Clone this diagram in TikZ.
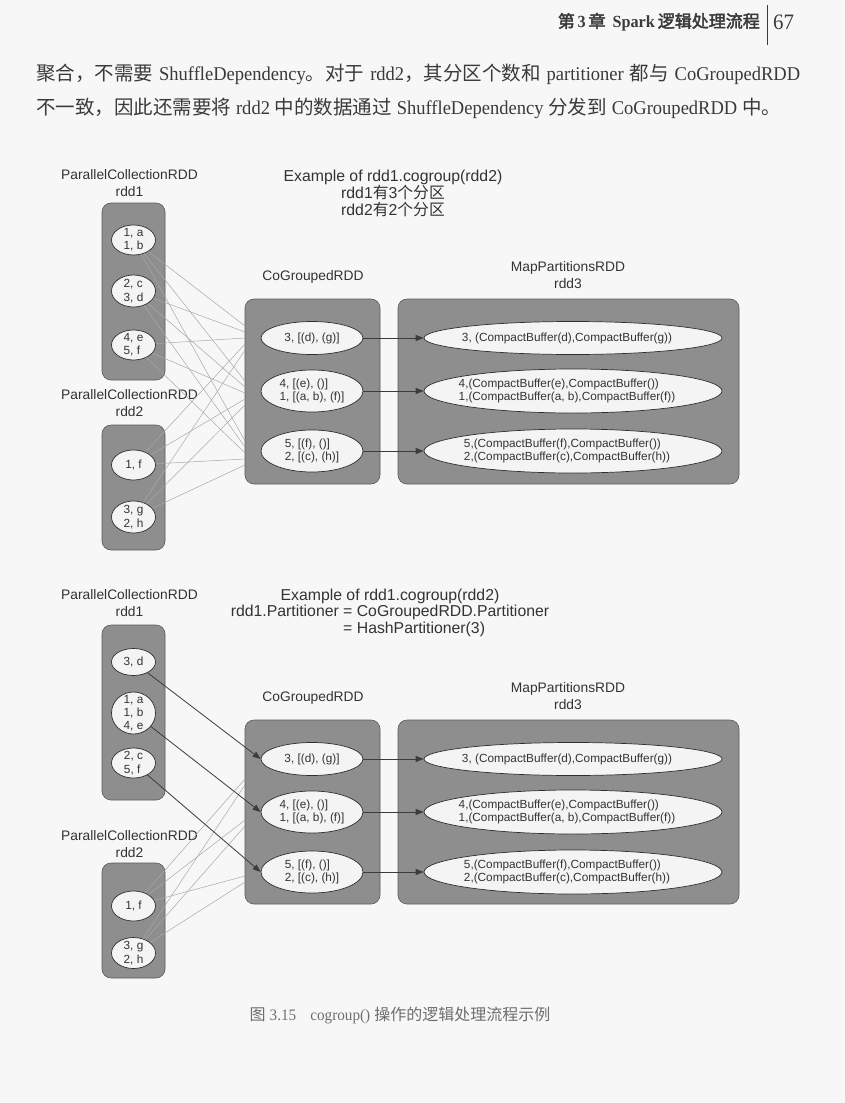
\documentclass[tikz,border=0pt]{standalone}
\usepackage{fontspec}
\setmainfont{Liberation Serif}
\newfontfamily\dg{Liberation Sans}
\newfontfamily\cjk{Noto Sans CJK SC}
\newfontfamily\cjkb[FakeBold=2.5]{Noto Sans CJK SC}
\newfontfamily\latn[FakeStretch=0.95]{Liberation Serif}
\usetikzlibrary{shapes.geometric,arrows.meta}
\definecolor{pagebg}{HTML}{F7F7F7}
\definecolor{boxfill}{HTML}{8E8E8E}
\definecolor{boxline}{HTML}{5A5A5A}
\definecolor{ellfill}{HTML}{F4F4F4}
\definecolor{ellline}{HTML}{2E2E2E}
\definecolor{dgtext}{HTML}{333333}
\definecolor{thinline}{HTML}{A8A8A8}
\definecolor{arrline}{HTML}{3C3C3C}
\definecolor{bodytext}{HTML}{3A3A3A}
\definecolor{captext}{HTML}{6E6E6E}
\tikzset{
  rddbox/.style={draw=boxline, fill=boxfill, rounded corners=9pt, line width=0.6pt, inner sep=0pt},
  part/.style={ellipse, draw=ellline, fill=ellfill, line width=0.7pt, inner sep=0pt},
  ptxt/.style={inner sep=0pt, align=left, text=dgtext, font=\dg\fontsize{11.8}{13.3}\selectfont},
  lbl/.style={inner sep=0pt, align=center, text=dgtext, font=\dg\fontsize{13.8}{17}\selectfont},
  ttl/.style={inner sep=0pt, align=center, text=dgtext, font=\dg\fontsize{15.8}{16.6}\selectfont},
  shuf/.style={draw=thinline, line width=0.5pt},
  dep/.style={draw=arrline, line width=0.8pt, -{Triangle[length=8pt,width=6pt]}},
  body/.style={inner sep=0pt, anchor=west, text=bodytext, font=\fontsize{19.5}{24}\selectfont}
}
\begin{document}
\begin{tikzpicture}[x=1pt,y=-1pt]
\path[use as bounding box, fill=pagebg] (0,0) rectangle (845,1103);

% ---------- page header ----------
\node[inner sep=0pt, anchor=east, text=bodytext, font=\fontsize{17}{20}\selectfont] (hdr) at (760,22)
  {{\cjkb 第}\,{\latn\bfseries 3}\,{\cjkb 章}\hspace{7pt}{\latn\bfseries Spark}\hspace{3pt}{\cjkb 逻辑处理流程}};
\draw[bodytext, line width=0.9pt] (767,5) -- (767,45);
\node[inner sep=0pt, anchor=west, text=bodytext, font=\fontsize{22}{24}\selectfont] (pgno) at (773,22) {\latn 67};

% ---------- paragraph ----------
\node[body] (para1) at (36,74) {\makebox[764pt][s]{{\cjk 聚合，不需要} {\latn ShuffleDependency}{\cjk 。对于} {\latn rdd2}{\cjk ，其分区个数和} {\latn partitioner} {\cjk 都与} {\latn CoGroupedRDD}}};
\node[body] (para2) at (36,108) {{\cjk 不一致，因此还需要将} {\latn rdd2} {\cjk 中的数据通过} {\latn ShuffleDependency} {\cjk 分发到} {\latn CoGroupedRDD} {\cjk 中。}};

% ================= TOP DIAGRAM =================
\node[ttl] (title1) at (393,193.5) {Example of rdd1.cogroup(rdd2)\\rdd1{\cjk 有}3{\cjk 个分区}\\rdd2{\cjk 有}2{\cjk 个分区}};
\node[lbl] (r1lbl) at (129.5,183.5) {ParallelCollectionRDD\\rdd1};
\node[lbl] (r2lbl) at (129.5,403) {ParallelCollectionRDD\\rdd2};
\node[lbl] (cglbl) at (313,277) {CoGroupedRDD};
\node[lbl] (mplbl) at (568,275) {MapPartitionsRDD\\rdd3};

\node[rddbox, minimum width=63pt, minimum height=177pt] (r1box) at (133.5,291.5) {};
\node[rddbox, minimum width=63pt, minimum height=125pt] (r2box) at (133.5,487.5) {};
\node[rddbox, minimum width=135pt, minimum height=185pt] (cgbox) at (312.5,391.5) {};
\node[rddbox, minimum width=341pt, minimum height=185pt] (mpbox) at (568.5,391.5) {};

\node[part, minimum width=44pt, minimum height=30pt] (e1) at (133.5,240) {};
\node[part, minimum width=44pt, minimum height=32pt] (e2) at (133.5,291) {};
\node[part, minimum width=44pt, minimum height=30pt] (e3) at (133.5,345) {};
\node[part, minimum width=44pt, minimum height=30pt] (e4) at (133.5,465) {};
\node[part, minimum width=44pt, minimum height=32pt] (e5) at (133.5,517) {};
\node[ptxt] (e1t) at (e1) {1, a\\1, b};
\node[ptxt] (e2t) at (e2) {2, c\\3, d};
\node[ptxt] (e3t) at (e3) {4, e\\5, f};
\node[ptxt] (e4t) at (e4) {1, f};
\node[ptxt] (e5t) at (e5) {3, g\\2, h};

\node[part, minimum width=102pt, minimum height=33pt] (c1) at (312,338) {};
\node[part, minimum width=102pt, minimum height=42pt] (c2) at (312,391) {};
\node[part, minimum width=102pt, minimum height=42pt] (c3) at (312,451) {};
\node[ptxt] (c1t) at (c1) {3, [(d), (g)]};
\node[ptxt] (c2t) at (c2) {4, [(e), ()]\\1, [(a, b), (f)]};
\node[ptxt] (c3t) at (c3) {5, [(f), ()]\\2, [(c), (h)]};

\node[part, minimum width=298pt, minimum height=33pt] (m1) at (573,338) {};
\node[part, minimum width=298pt, minimum height=44pt] (m2) at (573,391) {};
\node[part, minimum width=298pt, minimum height=44pt] (m3) at (573,451) {};
\node[ptxt] (m1t) at (567,338) {3, (CompactBuffer(d),CompactBuffer(g))};
\node[ptxt] (m2t) at (567,391) {4,(CompactBuffer(e),CompactBuffer())\\1,(CompactBuffer(a, b),CompactBuffer(f))};
\node[ptxt] (m3t) at (567,451) {5,(CompactBuffer(f),CompactBuffer())\\2,(CompactBuffer(c),CompactBuffer(h))};

\foreach \s [count=\i] in {e1,e2,e3,e4,e5}{
  \foreach \c/\yc in {c1/338,c2/393,c3/453}{
    \coordinate (\s-\c) at (245,{\yc-12+6*(\i-1)});
    \draw[shuf] (\s) -- (\s-\c);
  }
}
\draw[dep] (c1.east) -- (m1.west);
\draw[dep] (c2.east) -- (m2.west);
\draw[dep] (c3.east) -- (m3.west);

% ================= BOTTOM DIAGRAM =================
\node[ttl] (title2) at (390,613.5) {\begin{tabular}{@{}r@{}l@{}}
\multicolumn{2}{@{}c@{}}{Example of rdd1.cogroup(rdd2)}\\
rdd1.Partitioner&\ = CoGroupedRDD.Partitioner\\
&\ = HashPartitioner(3)
\end{tabular}};
\node[lbl] (s1lbl) at (129.5,603.5) {ParallelCollectionRDD\\rdd1};
\node[lbl] (s2lbl) at (129.5,844) {ParallelCollectionRDD\\rdd2};
\node[lbl] (dglbl) at (313,698) {CoGroupedRDD};
\node[lbl] (nplbl) at (568,696) {MapPartitionsRDD\\rdd3};

\node[rddbox, minimum width=63pt, minimum height=175pt] (s1box) at (133.5,712.5) {};
\node[rddbox, minimum width=63pt, minimum height=115pt] (s2box) at (133.5,920.5) {};
\node[rddbox, minimum width=135pt, minimum height=184pt] (dgbox) at (312.5,812) {};
\node[rddbox, minimum width=341pt, minimum height=184pt] (npbox) at (568.5,812) {};

\node[part, minimum width=44pt, minimum height=27pt] (b1) at (133.5,662) {};
\node[part, minimum width=44pt, minimum height=42pt] (b2) at (133.5,713) {};
\node[part, minimum width=44pt, minimum height=30pt] (b3) at (133.5,763) {};
\node[part, minimum width=44pt, minimum height=30pt] (b4) at (133.5,906) {};
\node[part, minimum width=44pt, minimum height=31pt] (b5) at (133.5,953) {};
\node[ptxt] (b1t) at (b1) {3, d};
\node[ptxt] (b2t) at (b2) {1, a\\1, b\\4, e};
\node[ptxt] (b3t) at (b3) {2, c\\5, f};
\node[ptxt] (b4t) at (b4) {1, f};
\node[ptxt] (b5t) at (b5) {3, g\\2, h};

\node[part, minimum width=102pt, minimum height=33pt] (d1) at (312,759) {};
\node[part, minimum width=102pt, minimum height=42pt] (d2) at (312,812) {};
\node[part, minimum width=102pt, minimum height=42pt] (d3) at (312,872) {};
\node[ptxt] (d1t) at (d1) {3, [(d), (g)]};
\node[ptxt] (d2t) at (d2) {4, [(e), ()]\\1, [(a, b), (f)]};
\node[ptxt] (d3t) at (d3) {5, [(f), ()]\\2, [(c), (h)]};

\node[part, minimum width=298pt, minimum height=33pt] (n1) at (573,759) {};
\node[part, minimum width=298pt, minimum height=44pt] (n2) at (573,812) {};
\node[part, minimum width=298pt, minimum height=44pt] (n3) at (573,872) {};
\node[ptxt] (n1t) at (567,759) {3, (CompactBuffer(d),CompactBuffer(g))};
\node[ptxt] (n2t) at (567,812) {4,(CompactBuffer(e),CompactBuffer())\\1,(CompactBuffer(a, b),CompactBuffer(f))};
\node[ptxt] (n3t) at (567,872) {5,(CompactBuffer(f),CompactBuffer())\\2,(CompactBuffer(c),CompactBuffer(h))};

\foreach \s/\o in {b4/0,b5/6}{
  \foreach \c/\yc in {d1/779,d2/820,d3/876}{
    \coordinate (\s-\c) at (245,{\yc+\o});
    \draw[shuf] (\s) -- (\s-\c);
  }
}
\draw[dep] (b1) -- (d1.west);
\draw[dep] (b2) -- (d2.west);
\draw[dep] (b3) -- (d3.west);
\draw[dep] (d1.east) -- (n1.west);
\draw[dep] (d2.east) -- (n2.west);
\draw[dep] (d3.east) -- (n3.west);

% ---------- caption ----------
\node[inner sep=0pt, text=captext, font=\fontsize{16}{19}\selectfont] (cap) at (400,1015)
  {{\cjk 图}~{\latn 3.15}\hspace{14pt}{\latn cogroup()}~{\cjk 操作的逻辑处理流程示例}};
\end{tikzpicture}
\end{document}
